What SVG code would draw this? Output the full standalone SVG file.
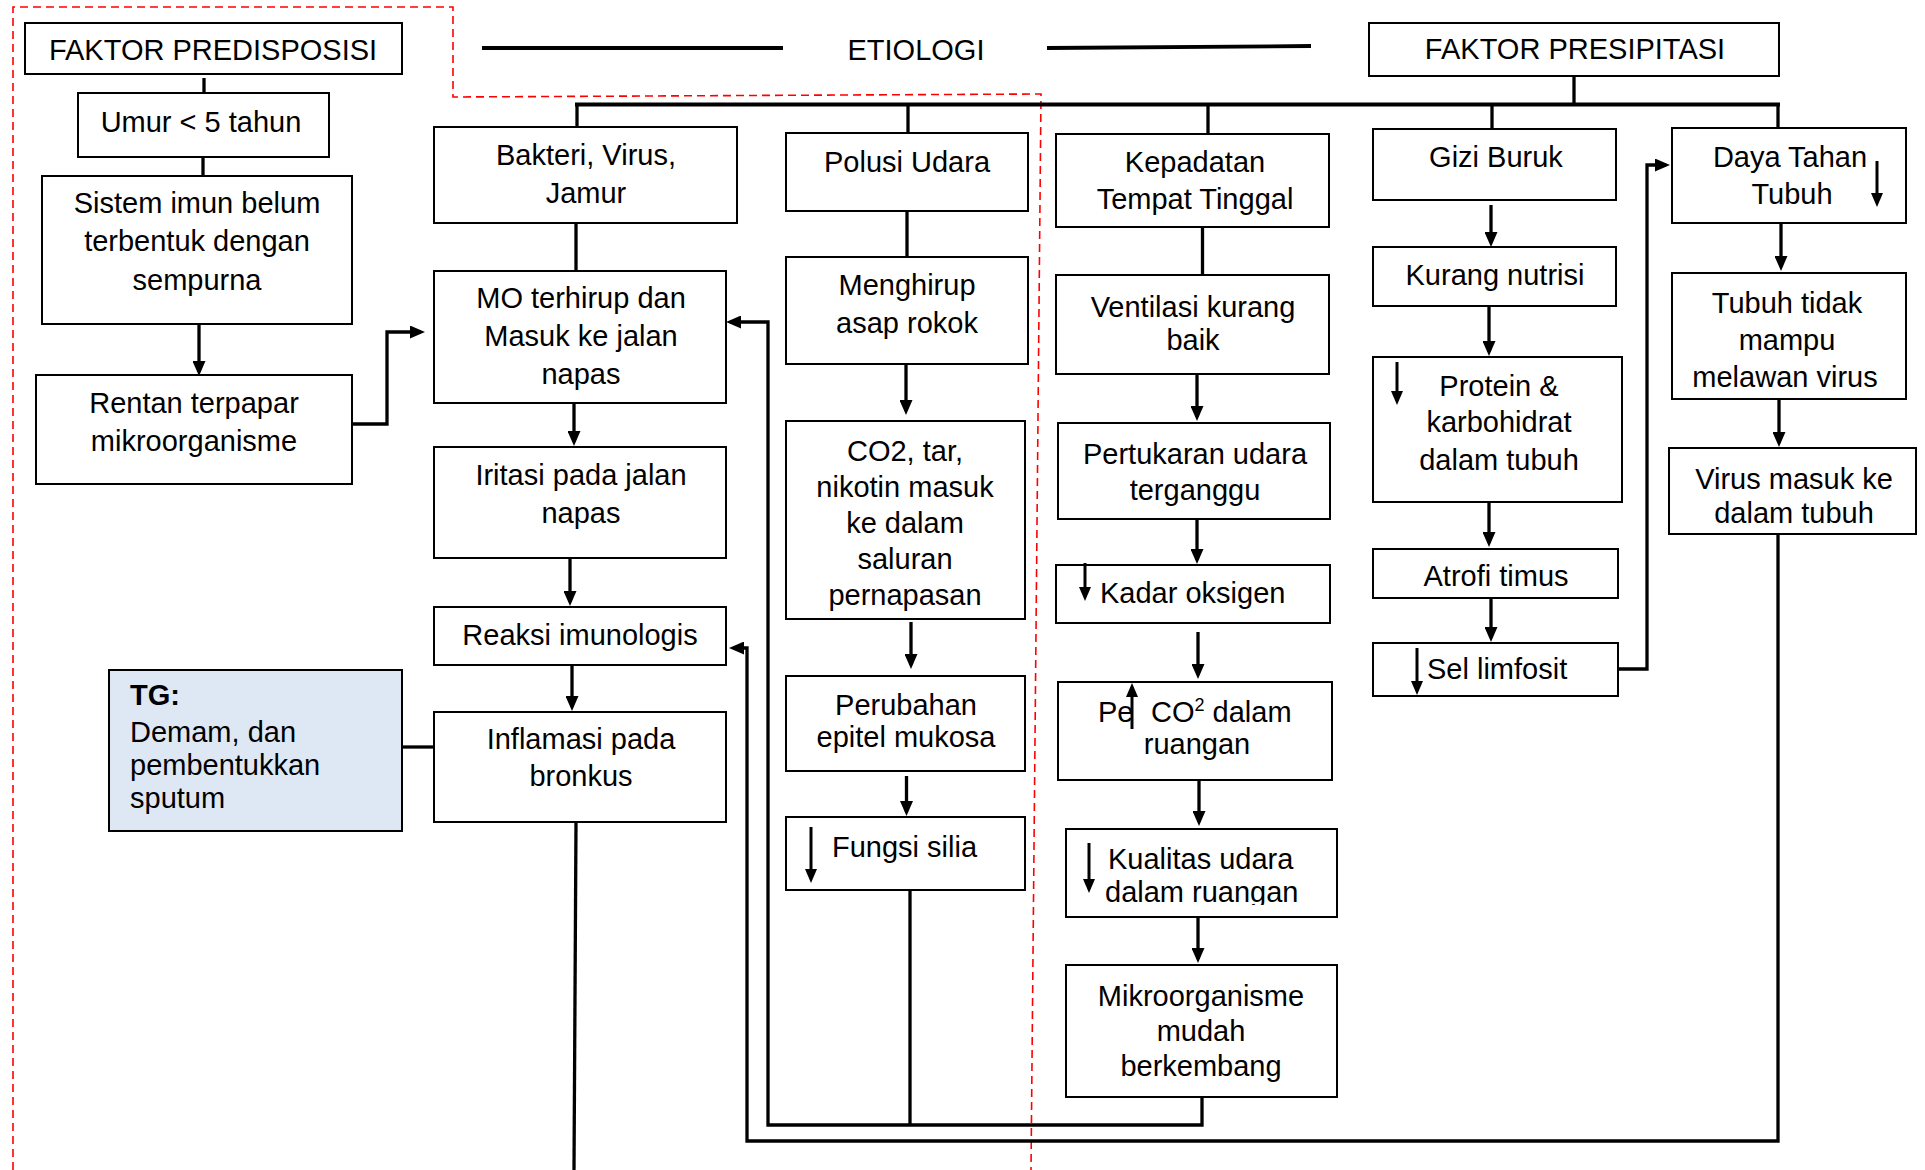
<svg xmlns="http://www.w3.org/2000/svg" width="1925" height="1170" viewBox="0 0 1925 1170">
<style>
.box{fill:#fff;stroke:#000;stroke-width:2}
.tg{fill:#dde8f4;stroke:#000;stroke-width:2}
text{font-family:"Liberation Sans",Arial,sans-serif;font-size:29px;fill:#000}
.c{text-anchor:middle}
.ln{stroke:#000;stroke-width:3.3;fill:none}
.bus{stroke:#000;stroke-width:3.8;fill:none}
.ar{marker-end:url(#ah)}
.ia{stroke:#000;stroke-width:3;fill:none;marker-end:url(#ahs)}
.red{stroke:#ff0000;stroke-width:1.6;fill:none;stroke-dasharray:8 5}
</style>
<defs>
<marker id="ah" viewBox="0 0 15 13" refX="11" refY="6.5" markerWidth="15" markerHeight="13" markerUnits="userSpaceOnUse" orient="auto"><path d="M0,0 L15,6.5 L0,13 z" fill="#000"/></marker>
<marker id="ahs" viewBox="0 0 14 12" refX="10" refY="6" markerWidth="14" markerHeight="12" markerUnits="userSpaceOnUse" orient="auto"><path d="M0,0 L14,6 L0,12 z" fill="#000"/></marker>
<clipPath id="kclip"><rect x="1066" y="830" width="271" height="75"/></clipPath>
</defs>
<rect width="1925" height="1170" fill="#fff"/>

<path class="red" d="M13,1170 V7 H453 V97 L1041,94 L1031,1170"/>

<g id="connectors">
<line class="bus" x1="482" y1="48" x2="783" y2="48"/>
<line class="bus" x1="1047" y1="48" x2="1311" y2="46"/>
<line class="ln" x1="204" y1="78" x2="204" y2="99"/>
<line class="ln" x1="203" y1="157" x2="203" y2="177"/>
<line class="ln ar" x1="199" y1="324" x2="199" y2="372"/>
<path class="ln ar" d="M352,424 H387 V332 H421"/>
<line class="bus" x1="575" y1="104.5" x2="1780" y2="104.5"/>
<line class="ln" x1="577" y1="104" x2="577" y2="127"/>
<line class="ln" x1="908" y1="104" x2="908" y2="133"/>
<line class="ln" x1="1208" y1="104" x2="1208" y2="134"/>
<line class="ln" x1="1492" y1="104" x2="1492" y2="129"/>
<line class="ln" x1="1778" y1="104" x2="1778" y2="128"/>
<line class="ln" x1="1574" y1="76" x2="1574" y2="104"/>
<line class="ln" x1="576" y1="222" x2="576" y2="271"/>
<line class="ln ar" x1="574" y1="403" x2="574" y2="442"/>
<line class="ln ar" x1="570" y1="558" x2="570" y2="602"/>
<line class="ln ar" x1="572" y1="665" x2="572" y2="707"/>
<line class="ln" x1="576" y1="822" x2="574" y2="1170"/>
<line class="ln" x1="402" y1="747" x2="433" y2="747"/>
<line class="ln" x1="907" y1="211" x2="907" y2="256"/>
<line class="ln ar" x1="906" y1="364" x2="906" y2="411"/>
<line class="ln ar" x1="911" y1="622" x2="911" y2="665"/>
<line class="ln ar" x1="906.5" y1="776" x2="906.5" y2="812"/>
<line class="ln" x1="910" y1="890" x2="910" y2="1125"/>
<path class="ln ar" d="M1202,1097 V1125 H768 V322 H730"/>
<path class="ln ar" d="M1778,534 V1141 H747 V648 H733"/>
<line class="ln" x1="1202.5" y1="227" x2="1202.5" y2="275"/>
<line class="ln ar" x1="1197" y1="374" x2="1197" y2="417"/>
<line class="ln ar" x1="1197" y1="519" x2="1197" y2="560"/>
<line class="ln ar" x1="1198" y1="632" x2="1198" y2="675"/>
<line class="ln ar" x1="1199" y1="780" x2="1199" y2="822"/>
<line class="ln ar" x1="1198" y1="917" x2="1198" y2="959"/>
<line class="ln ar" x1="1491" y1="205" x2="1491" y2="243"/>
<line class="ln ar" x1="1489" y1="306" x2="1489" y2="352"/>
<line class="ln ar" x1="1489" y1="502" x2="1489" y2="543"/>
<line class="ln ar" x1="1491" y1="598" x2="1491" y2="638"/>
<path class="ln ar" d="M1618,669 H1647 V165 H1666"/>
<line class="ln ar" x1="1781" y1="223" x2="1781" y2="267"/>
<line class="ln ar" x1="1779" y1="399" x2="1779" y2="443"/>
</g>

<g id="etiologi"><text class="c" x="916" y="60">ETIOLOGI</text></g>

<g id="faktor-predisposisi"><rect class="box" x="25" y="23" width="377" height="51"/><text class="c" x="213" y="60">FAKTOR PREDISPOSISI</text></g>
<g id="umur"><rect class="box" x="78" y="93" width="251" height="64"/><text class="c" x="201" y="132">Umur &lt; 5 tahun</text></g>
<g id="sistem-imun"><rect class="box" x="42" y="176" width="310" height="148"/><text class="c" x="197" y="213">Sistem imun belum</text><text class="c" x="197" y="251">terbentuk dengan</text><text class="c" x="197" y="290">sempurna</text></g>
<g id="rentan"><rect class="box" x="36" y="375" width="316" height="109"/><text class="c" x="194" y="413">Rentan terpapar</text><text class="c" x="194" y="451">mikroorganisme</text></g>
<g id="tg"><rect class="tg" x="109" y="670" width="293" height="161"/><text x="130" y="705" font-weight="bold">TG:</text><text x="130" y="742">Demam, dan</text><text x="130" y="775">pembentukkan</text><text x="130" y="808">sputum</text></g>

<g id="bakteri"><rect class="box" x="434" y="127" width="303" height="96"/><text class="c" x="586" y="165">Bakteri, Virus,</text><text class="c" x="586" y="203">Jamur</text></g>
<g id="mo-terhirup"><rect class="box" x="434" y="271" width="292" height="132"/><text class="c" x="581" y="308">MO terhirup dan</text><text class="c" x="581" y="346">Masuk ke jalan</text><text class="c" x="581" y="384">napas</text></g>
<g id="iritasi"><rect class="box" x="434" y="447" width="292" height="111"/><text class="c" x="581" y="485">Iritasi pada jalan</text><text class="c" x="581" y="523">napas</text></g>
<g id="reaksi"><rect class="box" x="434" y="607" width="292" height="58"/><text class="c" x="580" y="645">Reaksi imunologis</text></g>
<g id="inflamasi"><rect class="box" x="434" y="712" width="292" height="110"/><text class="c" x="581" y="749">Inflamasi pada</text><text class="c" x="581" y="786">bronkus</text></g>

<g id="polusi"><rect class="box" x="786" y="133" width="242" height="78"/><text class="c" x="907" y="172">Polusi Udara</text></g>
<g id="menghirup"><rect class="box" x="786" y="257" width="242" height="107"/><text class="c" x="907" y="295">Menghirup</text><text class="c" x="907" y="333">asap rokok</text></g>
<g id="co2-tar"><rect class="box" x="786" y="421" width="239" height="198"/><text class="c" x="905" y="461">CO2, tar,</text><text class="c" x="905" y="497">nikotin masuk</text><text class="c" x="905" y="533">ke dalam</text><text class="c" x="905" y="569">saluran</text><text class="c" x="905" y="605">pernapasan</text></g>
<g id="perubahan"><rect class="box" x="786" y="676" width="239" height="95"/><text class="c" x="906" y="715">Perubahan</text><text class="c" x="906" y="747">epitel mukosa</text></g>
<g id="fungsi-silia"><rect class="box" x="786" y="817" width="239" height="73"/><line class="ia" x1="811" y1="827" x2="811" y2="879"/><text x="832" y="857">Fungsi silia</text></g>

<g id="kepadatan"><rect class="box" x="1056" y="134" width="273" height="93"/><text class="c" x="1195" y="172">Kepadatan</text><text class="c" x="1195" y="209">Tempat Tinggal</text></g>
<g id="ventilasi"><rect class="box" x="1056" y="275" width="273" height="99"/><text class="c" x="1193" y="317">Ventilasi kurang</text><text class="c" x="1193" y="350">baik</text></g>
<g id="pertukaran"><rect class="box" x="1058" y="423" width="272" height="96"/><text class="c" x="1195" y="464">Pertukaran udara</text><text class="c" x="1195" y="500">terganggu</text></g>
<g id="kadar-oksigen"><rect class="box" x="1056" y="565" width="274" height="58"/><line class="ia" x1="1085" y1="563" x2="1085" y2="597"/><text x="1100" y="603">Kadar oksigen</text></g>
<g id="pe-co2"><rect class="box" x="1058" y="682" width="274" height="98"/><text x="1098" y="722">Pe</text><line class="ia" x1="1132" y1="729" x2="1132" y2="687"/><text x="1151" y="722">CO<tspan font-size="18" dy="-11">2</tspan><tspan dy="11"> dalam</tspan></text><text class="c" x="1197" y="754">ruangan</text></g>
<g id="kualitas-udara"><rect class="box" x="1066" y="829" width="271" height="88"/><line class="ia" x1="1089" y1="843" x2="1089" y2="889"/><text x="1108" y="869">Kualitas udara</text><text x="1105" y="902" clip-path="url(#kclip)">dalam ruangan</text></g>
<g id="mikroorganisme"><rect class="box" x="1066" y="965" width="271" height="132"/><text class="c" x="1201" y="1006">Mikroorganisme</text><text class="c" x="1201" y="1041">mudah</text><text class="c" x="1201" y="1076">berkembang</text></g>

<g id="faktor-presipitasi"><rect class="box" x="1369" y="23" width="410" height="53"/><text class="c" x="1575" y="59">FAKTOR PRESIPITASI</text></g>
<g id="gizi-buruk"><rect class="box" x="1373" y="129" width="243" height="71"/><text class="c" x="1496" y="167">Gizi Buruk</text></g>
<g id="kurang-nutrisi"><rect class="box" x="1373" y="247" width="243" height="59"/><text class="c" x="1495" y="285">Kurang nutrisi</text></g>
<g id="protein"><rect class="box" x="1373" y="357" width="249" height="145"/><line class="ia" x1="1397" y1="362" x2="1397" y2="401"/><text class="c" x="1499" y="396">Protein &amp;</text><text class="c" x="1499" y="432">karbohidrat</text><text class="c" x="1499" y="470">dalam tubuh</text></g>
<g id="atrofi"><rect class="box" x="1373" y="549" width="245" height="49"/><text class="c" x="1496" y="586">Atrofi timus</text></g>
<g id="sel-limfosit"><rect class="box" x="1373" y="643" width="245" height="53"/><line class="ia" x1="1417" y1="648" x2="1417" y2="691"/><text x="1427" y="679">Sel limfosit</text></g>

<g id="daya-tahan"><rect class="box" x="1672" y="128" width="234" height="95"/><text class="c" x="1790" y="167">Daya Tahan</text><text class="c" x="1792" y="204">Tubuh</text><line class="ia" x1="1877" y1="161" x2="1877" y2="203"/></g>
<g id="tubuh-tidak"><rect class="box" x="1672" y="273" width="234" height="126"/><text class="c" x="1787" y="313">Tubuh tidak</text><text class="c" x="1787" y="350">mampu</text><text class="c" x="1785" y="387">melawan virus</text></g>
<g id="virus-masuk"><rect class="box" x="1669" y="448" width="247" height="86"/><text class="c" x="1794" y="489">Virus masuk ke</text><text class="c" x="1794" y="523">dalam tubuh</text></g>
</svg>
